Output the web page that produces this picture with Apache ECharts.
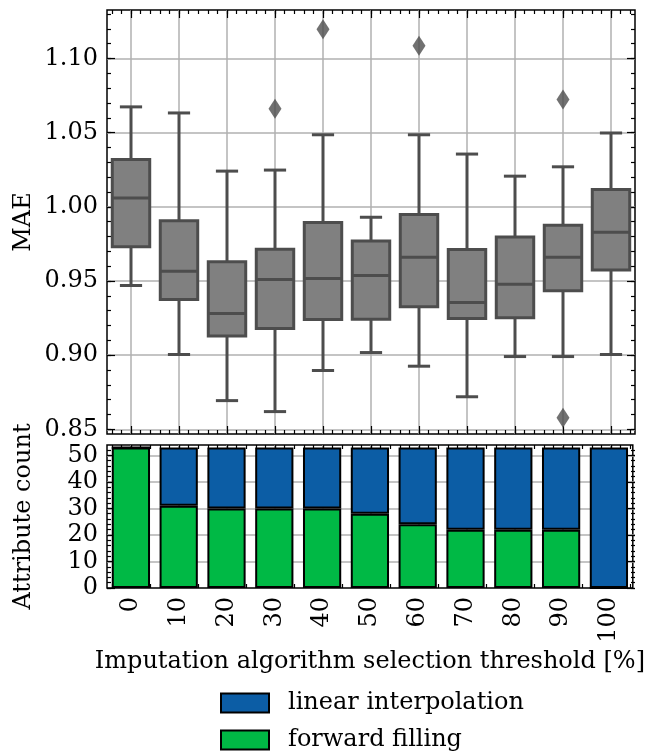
<!DOCTYPE html>
<html><head><meta charset="utf-8">
<script src="https://cdn.jsdelivr.net/npm/echarts@6/dist/echarts.min.js"></script>
<style>html,body{margin:0;padding:0;background:#fff}#c{width:647px;height:755px}</style>
</head><body><div id="c"></div>
<script>
// ---------------- data ----------------
const categories = ['0','10','20','30','40','50','60','70','80','90','100'];
const maeLowerWhisker = [0.947, 0.9005, 0.8694, 0.862, 0.8897, 0.9018, 0.8926, 0.872, 0.8991, 0.8991, 0.9005];
const maeQ1           = [0.9732, 0.9376, 0.913, 0.918, 0.9241, 0.9243, 0.9326, 0.9248, 0.9252, 0.9434, 0.9574];
const maeMedian       = [1.0059, 0.9566, 0.9282, 0.9511, 0.9518, 0.9538, 0.966, 0.9356, 0.9478, 0.966, 0.9829];
const maeQ3           = [1.032, 0.9907, 0.963, 0.9714, 0.9894, 0.977, 0.9948, 0.9712, 0.9797, 0.9876, 1.0117];
const maeUpperWhisker = [1.0674, 1.0633, 1.0241, 1.0248, 1.0486, 0.993, 1.0486, 1.0356, 1.0207, 1.027, 1.0498];
const maeOutlierCategory = ['30', '40', '60', '90', '90'];
const maeOutlierValue    = [1.0661, 1.1198, 1.1086, 1.0723, 0.8579];
const forwardFilling      = [53, 31, 30, 30, 30, 28, 24, 22, 22, 22, 0];
const linearInterpolation = [0, 22, 23, 23, 23, 25, 29, 31, 31, 31, 53];
const maeTickMin = 0.85, maeTickMax = 1.10, maeTickStep = 0.05, maeMinorStep = 0.01, maeMinorMax = 1.13;
const countTickMin = 0, countTickMax = 50, countTickStep = 10, countMinorStep = 2, countMinorMax = 52;

// ---------------- layout / style ----------------
const FONT = 'DejaVu Serif';
const EDGE = '#4d4d4d';
const GRIDC = '#b0b0b0';
const leftX = 107, rightX = 635, W = rightX - leftX, band = W / categories.length;
const topT = 10, botT = 434, minT = 0.8469, maxT = 1.1327;
const topB = 445, botB = 588, minB = 0, maxB = 53.9;
const yT = v => topT + (maxT - v) / (maxT - minT) * (botT - topT);
const yB = v => topB + (maxB - v) / (maxB - minB) * (botB - topB);
const tickLS = {color: '#000', width: 1.2};
const txt = {fontFamily: FONT, fontSize: 24, color: '#000'};

const grid = [], xAxis = [], yAxis = [];
function G(rect) { grid.push(rect); return grid.length - 1; }
function dummy(gi) { return {gridIndex: gi, type: 'value', show: false, min: 0, max: 1}; }

function addTicks(top, bottom, yMaj, yMin, yMajPx, yMinPx, hideMinLine) {
  let g = G({left: leftX + band / 2, width: 10 * band, top: top, height: bottom - top});
  ['bottom', 'top'].forEach((p, k) => xAxis.push({gridIndex: g, type: 'value', min: 0, max: 10, interval: 1, position: p,
    axisLine: {show: false}, axisLabel: {show: false},
    axisTick: {show: true, inside: true, length: 8, lineStyle: tickLS},
    splitLine: {show: k === 0, lineStyle: {color: GRIDC, width: 1.5}}}));
  yAxis.push(dummy(g));
  g = G({left: leftX + 0.1 * band, width: 10.8 * band, top: top, height: bottom - top});
  ['bottom', 'top'].forEach(p => xAxis.push({gridIndex: g, type: 'value', min: -0.4, max: 10.4, interval: 0.2, position: p,
    axisLine: {show: false}, axisLabel: {show: false}, splitLine: {show: false},
    axisTick: {show: true, inside: true, length: 4, lineStyle: tickLS}}));
  yAxis.push(dummy(g));
  g = G({left: leftX, width: W, top: yMajPx[0], height: yMajPx[1] - yMajPx[0]});
  ['left', 'right'].forEach((p, k) => yAxis.push({gridIndex: g, type: 'value', min: yMaj[0], max: yMaj[1], interval: yMaj[2], position: p,
    axisLine: {show: false},
    axisLabel: {show: k === 0, margin: 9, ...txt, formatter: yMaj[3]},
    axisTick: {show: true, inside: true, length: 8, lineStyle: tickLS},
    splitLine: {show: k === 0, showMinLine: !hideMinLine, lineStyle: {color: GRIDC, width: 1.5}}}));
  xAxis.push(dummy(g));
  g = G({left: leftX, width: W, top: yMinPx[0], height: yMinPx[1] - yMinPx[0]});
  ['left', 'right'].forEach(p => yAxis.push({gridIndex: g, type: 'value', min: yMin[0], max: yMin[1], interval: yMin[2], position: p,
    axisLine: {show: false}, axisLabel: {show: false}, splitLine: {show: false},
    axisTick: {show: true, inside: true, length: 4, lineStyle: tickLS}}));
  xAxis.push(dummy(g));
}

const gT = G({left: leftX, width: W, top: topT, height: botT - topT, show: true, borderColor: '#000', borderWidth: 1.5, backgroundColor: 'transparent'});
const xT = xAxis.push({gridIndex: gT, type: 'category', data: categories, show: false}) - 1;
const yTi = yAxis.push({gridIndex: gT, type: 'value', min: minT, max: maxT, name: 'MAE', nameLocation: 'middle', nameGap: 71,
  nameTextStyle: txt, axisLine: {show: false}, axisTick: {show: false}, axisLabel: {show: false}, splitLine: {show: false}}) - 1;
addTicks(topT, botT, [maeTickMin, maeTickMax, maeTickStep, v => v.toFixed(2)], [maeTickMin, maeMinorMax, maeMinorStep],
  [yT(maeTickMax), yT(maeTickMin)], [yT(maeMinorMax), yT(maeTickMin)], false);

const gB = G({left: leftX, width: W, top: topB, height: botB - topB, show: true, borderColor: '#000', borderWidth: 1.5, backgroundColor: 'transparent'});
const xBi = xAxis.push({gridIndex: gB, type: 'category', data: categories,
  name: 'Imputation algorithm selection threshold [%]', nameLocation: 'middle', nameGap: 62, nameTextStyle: txt,
  axisLine: {show: false}, axisTick: {show: false}, splitLine: {show: false},
  axisLabel: {rotate: 90, margin: 9, ...txt}}) - 1;
const yBi = yAxis.push({gridIndex: gB, type: 'value', min: minB, max: maxB, name: 'Attribute count', nameLocation: 'middle', nameGap: 71,
  nameTextStyle: txt, axisLine: {show: false}, axisTick: {show: false}, axisLabel: {show: false}, splitLine: {show: false}}) - 1;
addTicks(topB, botB, [countTickMin, countTickMax, countTickStep, v => String(v)], [countTickMin, countMinorMax, countMinorStep],
  [yB(countTickMax), yB(countTickMin)], [yB(countMinorMax), yB(countTickMin)], true);

// ---------------- series ----------------
const boxData = categories.map((c, i) => [i, maeLowerWhisker[i], maeQ1[i], maeMedian[i], maeQ3[i], maeUpperWhisker[i]]);
const outlierData = maeOutlierCategory.map((c, i) => [categories.indexOf(c), maeOutlierValue[i]]);

function renderBox(params, api) {
  const i = api.value(0);
  const bw = api.size([1, 0])[0];
  const x = api.coord([i, api.value(3)])[0];
  const yLo = api.coord([i, api.value(1)])[1];
  const yQ1 = api.coord([i, api.value(2)])[1];
  const yMed = api.coord([i, api.value(3)])[1];
  const yQ3 = api.coord([i, api.value(4)])[1];
  const yHi = api.coord([i, api.value(5)])[1];
  const boxW = bw * 0.78, capW = bw * 0.4;
  const ls = {stroke: EDGE, lineWidth: 3};
  const lsCap = {stroke: EDGE, lineWidth: 3, lineCap: 'square'};
  return {type: 'group', children: [
    {type: 'line', shape: {x1: x, y1: yQ1, x2: x, y2: yLo}, style: ls},
    {type: 'line', shape: {x1: x, y1: yQ3, x2: x, y2: yHi}, style: ls},
    {type: 'line', shape: {x1: x - capW / 2, y1: yLo, x2: x + capW / 2, y2: yLo}, style: lsCap},
    {type: 'line', shape: {x1: x - capW / 2, y1: yHi, x2: x + capW / 2, y2: yHi}, style: lsCap},
    {type: 'rect', shape: {x: x - boxW / 2, y: yQ3, width: boxW, height: yQ1 - yQ3}, style: {fill: '#808080', stroke: EDGE, lineWidth: 3}},
    {type: 'line', shape: {x1: x - boxW / 2, y1: yMed, x2: x + boxW / 2, y2: yMed}, style: ls}
  ]};
}

const legendBase = {orient: 'vertical', left: 215, itemWidth: 48, itemHeight: 19, icon: 'rect',
  textStyle: {...txt, padding: [0, 0, 0, 14]}};

const option = {
  animation: false,
  backgroundColor: '#fff',
  grid, xAxis, yAxis,
  legend: [
    {...legendBase, data: ['linear interpolation'], top: 686},
    {...legendBase, data: ['forward filling'], top: 723}
  ],
  series: [
    {type: 'custom', name: 'MAE', xAxisIndex: xT, yAxisIndex: yTi, renderItem: renderBox,
      encode: {x: 0, y: [1, 2, 3, 4, 5]}, data: boxData, z: 3},
    {type: 'scatter', xAxisIndex: xT, yAxisIndex: yTi, symbol: 'diamond', symbolSize: [13, 20],
      itemStyle: {color: EDGE}, data: outlierData, z: 4},
    {type: 'bar', name: 'forward filling', stack: 'cnt', xAxisIndex: xBi, yAxisIndex: yBi, barWidth: '80%',
      itemStyle: {color: '#00B945', borderColor: '#000', borderWidth: 2}, data: forwardFilling},
    {type: 'bar', name: 'linear interpolation', stack: 'cnt', xAxisIndex: xBi, yAxisIndex: yBi, barWidth: '80%',
      itemStyle: {color: '#0C5DA5', borderColor: '#000', borderWidth: 2}, data: linearInterpolation}
  ]
};
const chart = echarts.init(document.getElementById('c'), null, {renderer: 'canvas'});
chart.setOption(option);
</script></body></html>
